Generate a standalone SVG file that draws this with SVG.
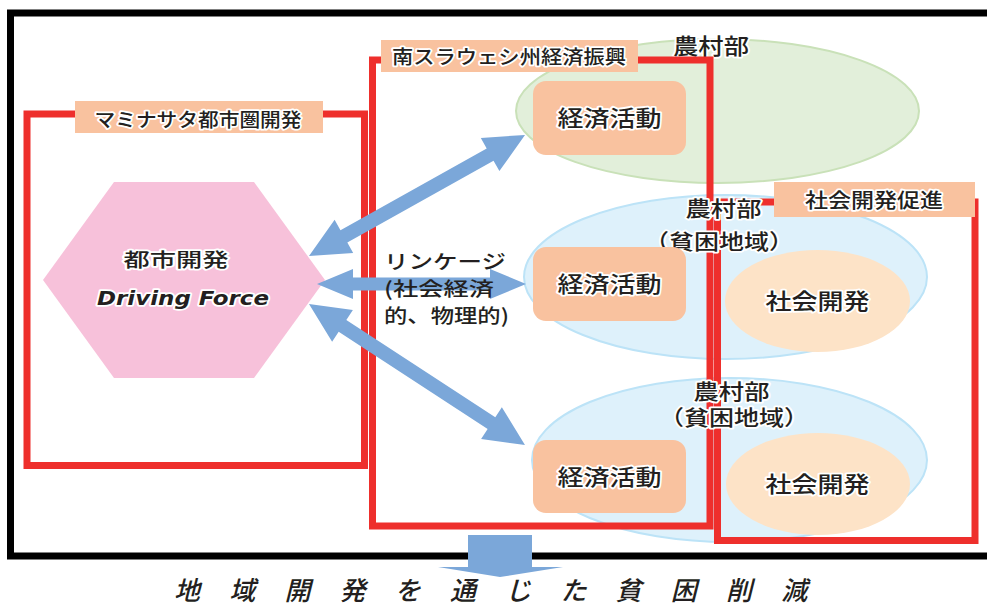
<svg xmlns="http://www.w3.org/2000/svg" width="987" height="605" viewBox="0 0 987 605">
<style>
.t{font-family:"Noto Sans CJK JP","Noto Sans",sans-serif;fill:#231F20;font-weight:500}
.h{stroke:#fff;stroke-width:3.5;stroke-linejoin:round;paint-order:stroke}
.red{fill:none;stroke:#EE2F2C;stroke-width:7}
.lab{fill:#F9C29F}
.econ{fill:#F9C29F}
.soc{fill:#FDE3C7}
.poor{fill:#DEF1FB;stroke:#BCE3F7;stroke-width:2}
.arr{fill:#7BA7D9}
</style>
<rect x="0" y="0" width="987" height="605" fill="#fff"/>
<g id="frame">
<rect x="10.5" y="13" width="990" height="543" fill="none" stroke="#000" stroke-width="7"/>
</g>
<g id="rural-north">
<ellipse cx="717.5" cy="111" rx="201.5" ry="72" fill="#E2EFDA" stroke="#C9E1B8" stroke-width="2"/>
<text class="t h" x="711" y="54" font-size="22" text-anchor="middle" textLength="76" lengthAdjust="spacingAndGlyphs">農村部</text>
</g>
<g id="rural-poor-1">
<ellipse class="poor" cx="725.5" cy="277" rx="201.5" ry="82"/>
</g>
<g id="rural-poor-2">
<ellipse class="poor" cx="729.5" cy="460" rx="197.5" ry="82"/>
</g>
<g id="metro-area">
<rect class="red" x="27" y="114" width="337.5" height="351.5"/>
<rect class="lab" x="75" y="101" width="248" height="32"/>
<text class="t h" x="198" y="126.5" font-size="19" text-anchor="middle" textLength="207" lengthAdjust="spacingAndGlyphs">マミナサタ都市圏開発</text>
</g>
<g id="south-sulawesi">
<rect class="red" x="372.5" y="60" width="337.5" height="466"/>
<rect class="lab" x="381" y="40" width="257" height="32"/>
<text class="t h" x="509" y="63.5" font-size="19.5" text-anchor="middle" textLength="234" lengthAdjust="spacingAndGlyphs">南スラウェシ州経済振興</text>
</g>
<g id="social-promotion">
<rect class="red" x="717.5" y="202" width="257.5" height="338.5"/>
<rect class="lab" x="774" y="182" width="201" height="35"/>
<text class="t h" x="874" y="208" font-size="20" text-anchor="middle" textLength="138" lengthAdjust="spacingAndGlyphs">社会開発促進</text>
</g>
<g id="rural-poor-1-label">
<text class="t h" x="723.5" y="216" font-size="21" text-anchor="middle" textLength="76" lengthAdjust="spacingAndGlyphs">農村部</text>
<text class="t h" x="719" y="248.5" font-size="21" text-anchor="middle" textLength="150" lengthAdjust="spacingAndGlyphs">（貧困地域）</text>
</g>
<g id="rural-poor-2-label">
<text class="t h" x="731.5" y="399" font-size="21" text-anchor="middle" textLength="76" lengthAdjust="spacingAndGlyphs">農村部</text>
<text class="t h" x="734" y="425" font-size="21" text-anchor="middle" textLength="150" lengthAdjust="spacingAndGlyphs">（貧困地域）</text>
</g>
<g id="econ-1">
<rect class="econ" x="533" y="81" width="153" height="74" rx="13"/>
<text class="t h" x="609.5" y="126.2" font-size="22" text-anchor="middle" textLength="104" lengthAdjust="spacingAndGlyphs">経済活動</text>
</g>
<g id="econ-2">
<rect class="econ" x="533" y="247" width="153" height="74" rx="13"/>
<text class="t h" x="609.5" y="292.4" font-size="22" text-anchor="middle" textLength="104" lengthAdjust="spacingAndGlyphs">経済活動</text>
</g>
<g id="econ-3">
<rect class="econ" x="533" y="440" width="153" height="73" rx="13"/>
<text class="t h" x="609.5" y="485" font-size="22" text-anchor="middle" textLength="104" lengthAdjust="spacingAndGlyphs">経済活動</text>
</g>
<g id="social-1">
<ellipse class="soc" cx="817.5" cy="301" rx="92.5" ry="51"/>
<text class="t h" x="817.5" y="309.4" font-size="22" text-anchor="middle" textLength="104" lengthAdjust="spacingAndGlyphs">社会開発</text>
</g>
<g id="social-2">
<ellipse class="soc" cx="818" cy="484" rx="92" ry="51"/>
<text class="t h" x="817.5" y="492.4" font-size="22" text-anchor="middle" textLength="104" lengthAdjust="spacingAndGlyphs">社会開発</text>
</g>
<g id="urban-dev">
<polygon points="114,182 254,182 325,280 254,378 114,378 43,280" fill="#F7C1DA"/>
<text class="t h" x="176" y="267.2" font-size="19" text-anchor="middle" textLength="105" lengthAdjust="spacingAndGlyphs">都市開発</text>
<text class="h" x="183" y="305" font-family="'DejaVu Sans',Verdana,sans-serif" font-weight="bold" font-style="italic" font-size="20" fill="#231F20" text-anchor="middle" textLength="172" lengthAdjust="spacingAndGlyphs">Driving Force</text>
</g>
<g id="connectors">
<polygon class="arr" transform="translate(309,256) rotate(-29.26)" points="0,0 40,19 40,7 207.6,7 207.6,19 247.6,0 207.6,-19 207.6,-7 40,-7 40,-19"/>
<polygon class="arr" transform="translate(317,284)" points="0,0 36,15 36,6.5 173,6.5 173,15 209,0 173,-15 173,-6.5 36,-6.5 36,-15"/>
<polygon class="arr" transform="translate(309,304) rotate(33.13)" points="0,0 40,19 40,7 217.9,7 217.9,19 257.9,0 217.9,-19 217.9,-7 40,-7 40,-19"/>
</g>
<g id="linkage">
<text class="t" x="384" y="269" font-size="19.5" textLength="122" lengthAdjust="spacingAndGlyphs">リンケージ</text>
<text class="t" x="384" y="296" font-size="19.5" textLength="110" lengthAdjust="spacingAndGlyphs">(社会経済</text>
<text class="t" x="384" y="322.5" font-size="19.5" textLength="125" lengthAdjust="spacingAndGlyphs">的、物理的)</text>
</g>
<g id="outcome">
<polygon class="arr" points="468,535 532,535 532,567 563,567 500,577 438,567 468,567"/>
<text class="t" y="600" font-size="26" font-style="italic" font-weight="normal" x="174 201 229.2 256 284.4 311 339.6 367 394.8 422 450 477 505.2 532 560.4 588 615.6 643 670.8 698 726 753 781.2">地 域 開 発 を 通 じ た 貧 困 削 減</text>
</g>
</svg>
